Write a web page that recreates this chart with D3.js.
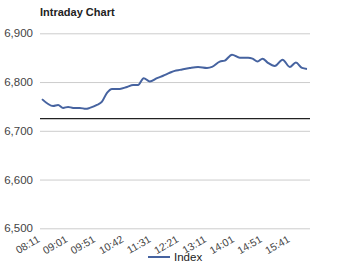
<!DOCTYPE html>
<html>
<head>
<meta charset="utf-8">
<script src="https://cdnjs.cloudflare.com/ajax/libs/d3/7.8.5/d3.min.js"></script>
<style>
  body { margin: 0; background: #fff; }
  svg { font-family: "Liberation Sans", Arial, sans-serif; }
</style>
</head>
<body>
<svg id="chart" width="353" height="267"></svg>
<script>
// chart data
var times = ["08:11","08:31","08:40","08:49","08:58","09:07","09:19","09:30","09:37","09:50",
             "09:59","10:08","10:17","10:26","10:31","10:44","10:55","11:04","11:14","11:25",
             "11:38","11:49","12:01","12:10","12:19","12:37","12:52","13:08","13:17","13:31",
             "13:40","13:53","14:07","14:22","14:30","14:39","14:48","14:57","15:10","15:24",
             "15:37","15:48","15:59","16:08"];
var values = [6765,6751,6753,6747,6749,6747,6747,6745,6747,6753,
              6760,6778,6786,6786,6786,6790,6794,6794,6808,6801,
              6808,6813,6819,6823,6825,6829,6831,6829,6831,6842,
              6844,6856,6850,6850,6848,6842,6848,6840,6833,6846,
              6831,6840,6829,6827];
var tickLabels = ["08:11","09:01","09:51","10:42","11:31","12:21","13:11","14:01","14:51","15:41"];
var yTicks = [6500, 6600, 6700, 6800, 6900];
var refValue = 6725;
var seriesName = "Index";

function mins(s) {
  var p = s.split(":");
  return +p[0] * 60 + +p[1];
}

var data = times.map(function(t, i) { return {t: mins(t), v: values[i]}; });

var svg = d3.select("#chart"),
    plotL = 40, plotR = 310, plotT = 33.3, plotB = 228.3;

var x = d3.scaleLinear()
  .domain([mins("08:11"), mins("08:11") + 477])
  .range([42, 307]);

var y = d3.scaleLinear()
  .domain([6500, 6900])
  .range([plotB, plotT]);

// title
svg.append("text")
  .attr("x", plotL)
  .attr("y", 16)
  .attr("font-size", 11)
  .attr("font-weight", "bold")
  .attr("fill", "#222")
  .text("Intraday Chart");

// grid + y labels
var yAxis = svg.append("g")
  .attr("transform", "translate(" + plotL + ",0)")
  .call(d3.axisLeft(y).tickValues(yTicks).tickSize(-(plotR - plotL)).tickPadding(7)
    .tickFormat(d3.format(",")));
yAxis.select(".domain").remove();
yAxis.selectAll("line").attr("stroke", "#ccc");
yAxis.selectAll("text").attr("fill", "#444").attr("font-size", 11.5)
  .attr("font-family", "\"Liberation Sans\", Arial, sans-serif");

// reference line
svg.append("line")
  .attr("x1", plotL).attr("x2", plotR)
  .attr("y1", y(refValue)).attr("y2", y(refValue))
  .attr("stroke", "#222").attr("stroke-width", 1.2);

// x labels
var xAxis = svg.append("g")
  .attr("transform", "translate(0," + plotB + ")")
  .call(d3.axisBottom(x).tickValues(tickLabels.map(mins)).tickSize(0)
    .tickFormat(function(d, i) { return tickLabels[i]; }));
xAxis.select(".domain").remove();
xAxis.selectAll("text")
  .attr("fill", "#444")
  .attr("font-size", 10.5)
  .attr("font-family", "\"Liberation Sans\", Arial, sans-serif")
  .attr("text-anchor", "end")
  .attr("dy", null)
  .attr("y", 0)
  .attr("transform", "translate(-2,13) rotate(-30)");

// the series
var line = d3.line()
  .x(function(d) { return x(d.t); })
  .y(function(d) { return y(d.v); })
  .curve(d3.curveMonotoneX);

svg.append("path")
  .datum(data)
  .attr("fill", "none")
  .attr("stroke", "#4663a0")
  .attr("stroke-width", 2)
  .attr("stroke-linejoin", "round")
  .attr("d", line);

// legend
var legend = svg.append("g").attr("transform", "translate(148,257)");
legend.append("line")
  .attr("x1", 0).attr("x2", 22).attr("y1", 0).attr("y2", 0)
  .attr("stroke", "#4663a0").attr("stroke-width", 2);
legend.append("text")
  .attr("x", 26).attr("y", 4)
  .attr("font-size", 11.5)
  .attr("fill", "#222")
  .text(seriesName);
</script>
</body>
</html>
